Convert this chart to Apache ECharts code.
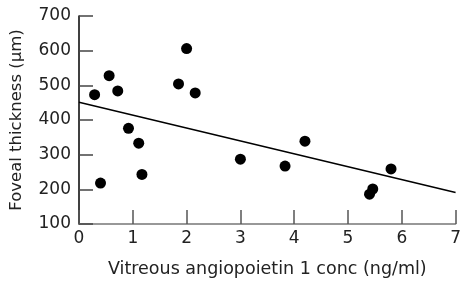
<!DOCTYPE html>
<html>
<head>
<meta charset="utf-8">
<script src="https://cdn.jsdelivr.net/npm/echarts@6/dist/echarts.min.js"></script>
<style>
  html, body { margin: 0; padding: 0; background: #fff; }
  #chart { width: 464px; height: 284px; }
</style>
</head>
<body>
<div id="chart"></div>
<script>
// angiopoietin 1 conc (ng/ml) and foveal thickness (um) per eye
var angioConc = [0.29, 0.40, 0.56, 0.72, 0.92, 1.11, 1.17, 1.85, 2.0, 2.16, 3.0, 3.83, 4.2, 5.4, 5.46, 5.8];
var fovealThick = [473, 218, 528, 484, 376, 333, 243, 504, 606, 478, 287, 267, 339, 186, 201, 259];
// regression line endpoints
var fitX = [0, 7];
var fitY = [451, 191];

var font = '"DejaVu Sans", sans-serif';
var chart = echarts.init(document.getElementById('chart'));

var points = angioConc.map(function (x, i) { return [x, fovealThick[i]]; });
var fitLine = fitX.map(function (x, i) { return [x, fitY[i]]; });

var option = {
  backgroundColor: '#fff',
  animation: false,
  grid: { left: 79, right: 5, top: 16, bottom: 60 },
  xAxis: {
    type: 'value',
    min: 0, max: 7, interval: 1,
    name: 'Vitreous angiopoietin 1 conc (ng/ml)',
    nameLocation: 'middle',
    nameGap: 36,
    nameTextStyle: { fontFamily: font, fontSize: 17.5, color: '#222' },
    axisLine: { lineStyle: { color: '#777', width: 1.5 } },
    axisTick: { inside: true, length: 14, lineStyle: { color: '#555', width: 1.5 } },
    axisLabel: { fontFamily: font, fontSize: 17, color: '#222', margin: 6 },
    splitLine: { show: false }
  },
  yAxis: {
    type: 'value',
    min: 100, max: 700, interval: 100,
    name: 'Foveal thickness (μm)',
    nameLocation: 'middle',
    nameGap: 54,
    nameRotate: 90,
    nameTextStyle: { fontFamily: font, fontSize: 16.5, color: '#222' },
    axisLine: { show: true, lineStyle: { color: '#000', width: 1.5 } },
    axisTick: { inside: true, length: 14, lineStyle: { color: '#444', width: 1.5 } },
    axisLabel: { fontFamily: font, fontSize: 17, color: '#222', margin: 8 },
    splitLine: { show: false }
  },
  series: [
    {
      type: 'scatter',
      data: points,
      symbol: 'circle',
      symbolSize: 11,
      itemStyle: { color: '#000', opacity: 1 }
    },
    {
      type: 'line',
      data: fitLine,
      symbol: 'none',
      lineStyle: { color: '#000', width: 1.5 }
    }
  ]
};

chart.setOption(option);
</script>
</body>
</html>
